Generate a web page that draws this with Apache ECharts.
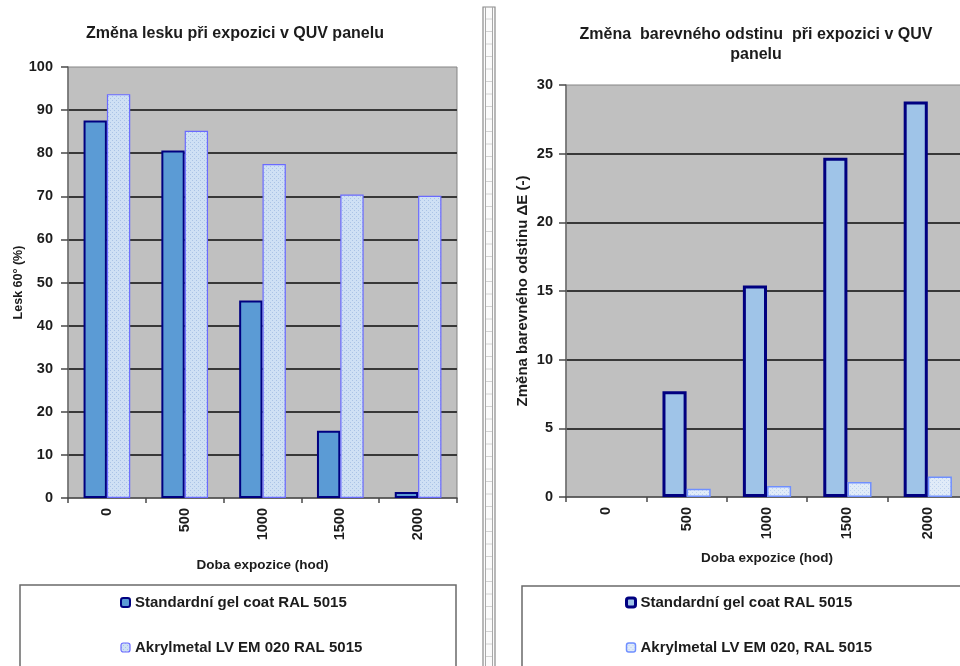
<!DOCTYPE html>
<html>
<head>
<meta charset="utf-8">
<script src="https://cdn.jsdelivr.net/npm/echarts@6/dist/echarts.min.js"></script>
<style>
  html, body { margin: 0; padding: 0; background: #ffffff; }
  #chart { width: 960px; height: 666px; }
</style>
</head>
<body>
<div id="chart"></div>
<script>
// Exposure times in a QUV panel (hours)
const hours = ['0', '500', '1000', '1500', '2000'];

// Gloss 60° (%)
const glossStandard = [87.6, 80.6, 45.8, 15.6, 1.4];
const glossAkrylmetal = [93.7, 85.2, 77.5, 70.4, 70.1];

// Colour difference ΔE (-); no bar is drawn at 0 h
const deltaEStandard = [null, 7.7, 15.4, 24.7, 28.8];
const deltaEAkrylmetal = [null, 0.6, 0.8, 1.1, 1.5];

const nameStandard = 'Standardní gel coat RAL 5015';
const nameAkrylLeft = 'Akrylmetal LV EM 020 RAL 5015';
const nameAkrylRight = 'Akrylmetal LV EM 020, RAL 5015';

const FONT = '"Liberation Sans", Arial, sans-serif';
const TEXT = '#1c1c1c';

// Small dotted tile used as the fill of the Akrylmetal bars
function dotPattern(bg, dot) {
  const c = document.createElement('canvas');
  c.width = 4; c.height = 4;
  const g = c.getContext('2d');
  g.fillStyle = bg; g.fillRect(0, 0, 4, 4);
  g.fillStyle = dot;
  g.fillRect(0, 0, 1, 1);
  g.fillRect(2, 2, 1, 1);
  return { image: c, repeat: 'repeat' };
}
const akrylFillLeft = dotPattern('#cfe0f4', '#aac3e6');
const akrylFillRight = dotPattern('#e0ebf8', '#bed2ee');

const styleStdLeft = { color: '#5b9bd5', borderColor: '#000080', borderWidth: 2 };
const styleAkrLeft = { color: akrylFillLeft, borderColor: '#6a6aff', borderWidth: 1.2 };
const styleStdRight = { color: '#9fc4e8', borderColor: '#000080', borderWidth: 3 };
const styleAkrRight = { color: akrylFillRight, borderColor: '#6f8fff', borderWidth: 1.5 };

const tickFont = { fontFamily: FONT, fontWeight: 'bold', fontSize: 14.5, color: TEXT };

function valueAxis(gridIndex, max, interval, name, nameGap, nameSize, margin) {
  return {
    type: 'value', gridIndex, min: 0, max, interval,
    name, nameLocation: 'middle', nameGap,
    nameTextStyle: { fontFamily: FONT, fontWeight: 'bold', fontSize: nameSize, color: TEXT },
    axisLine: { show: true, lineStyle: { color: '#6e6e6e', width: 1.5 } },
    axisTick: { show: true, length: 7, lineStyle: { color: '#4a4a4a', width: 1.5 } },
    axisLabel: Object.assign({ margin }, tickFont),
    splitLine: { show: true, showMinLine: false, showMaxLine: false,
                 lineStyle: { color: '#383838', width: 1.8 } }
  };
}

function categoryAxis(gridIndex, nameGap) {
  return {
    type: 'category', gridIndex, data: hours,
    name: 'Doba expozice (hod)', nameLocation: 'middle', nameGap,
    nameTextStyle: { fontFamily: FONT, fontWeight: 'bold', fontSize: 13.5, color: TEXT },
    axisLine: { show: true, lineStyle: { color: '#4a4a4a', width: 1.5 } },
    axisTick: { show: true, length: 5, lineStyle: { color: '#4a4a4a', width: 1.5 } },
    axisLabel: Object.assign({ rotate: 90, margin: 10 }, tickFont)
  };
}

// Vertical spreadsheet-style strip separating the two charts
const strip = [];
strip.push({ type: 'rect', shape: { x: 483, y: 7, width: 12, height: 670 },
             style: { fill: '#fbfbfb', stroke: '#8a8a8a', lineWidth: 1.2 }, silent: true });
strip.push({ type: 'line', shape: { x1: 485.5, y1: 7, x2: 485.5, y2: 677 },
             style: { stroke: '#a8a8a8', lineWidth: 1 }, silent: true });
strip.push({ type: 'line', shape: { x1: 492.5, y1: 7, x2: 492.5, y2: 677 },
             style: { stroke: '#a8a8a8', lineWidth: 1 }, silent: true });
for (let y = 19; y < 666; y += 12.5) {
  strip.push({ type: 'line', shape: { x1: 486, y1: y, x2: 492, y2: y },
               style: { stroke: '#d2d2d2', lineWidth: 1 }, silent: true });
}

const legendText = { fontFamily: FONT, fontWeight: 'bold', fontSize: 15, color: TEXT };

const option = {
  backgroundColor: '#ffffff',
  animation: false,
  title: [
    { text: 'Změna lesku při expozici v QUV panelu', left: 230, top: 21, textAlign: 'center',
      textStyle: { fontFamily: FONT, fontWeight: 'bold', fontSize: 16, color: TEXT } },
    { text: 'Změna  barevného odstinu  při expozici v QUV\npanelu', left: 751, top: 20, textAlign: 'center',
      textStyle: { fontFamily: FONT, fontWeight: 'bold', fontSize: 16, color: TEXT, lineHeight: 20 } }
  ],
  grid: [
    { left: 68, width: 389, top: 67, height: 431, show: true, outerBoundsMode: 'none',
      backgroundColor: '#c0c0c0', borderColor: '#858585', borderWidth: 1 },
    { left: 566, width: 402, top: 85, height: 412, show: true, outerBoundsMode: 'none',
      backgroundColor: '#c0c0c0', borderColor: '#858585', borderWidth: 1 }
  ],
  xAxis: [categoryAxis(0, 60), categoryAxis(1, 54)],
  yAxis: [
    valueAxis(0, 100, 10, 'Lesk 60° (%)', 43, 12.5, 15),
    valueAxis(1, 30, 5, 'Změna barevného odstinu ΔE (-)', 36, 15, 13)
  ],
  legend: [
    { orient: 'vertical', left: 120, top: 595, padding: 0, itemWidth: 9, itemHeight: 9, itemGap: 30,
      textStyle: legendText,
      data: [
        { name: nameStandard, itemStyle: styleStdLeft },
        { name: nameAkrylLeft, itemStyle: styleAkrLeft }
      ] },
    { orient: 'vertical', left: 625, top: 595, padding: 0, itemWidth: 9, itemHeight: 9, itemGap: 30,
      textStyle: legendText,
      data: [
        { name: nameStandard, itemStyle: styleStdRight },
        { name: nameAkrylRight, itemStyle: styleAkrRight }
      ] }
  ],
  graphic: strip.concat([
    { type: 'rect', shape: { x: 20, y: 585, width: 436, height: 100 },
      style: { fill: 'none', stroke: '#6a6a6a', lineWidth: 1.5 }, silent: true, z: -1 },
    { type: 'rect', shape: { x: 522, y: 586, width: 460, height: 100 },
      style: { fill: 'none', stroke: '#6a6a6a', lineWidth: 1.5 }, silent: true, z: -1 }
  ]),
  series: [
    { type: 'bar', name: nameStandard, xAxisIndex: 0, yAxisIndex: 0, data: glossStandard,
      barGap: '0%', barCategoryGap: '40%', itemStyle: styleStdLeft },
    { type: 'bar', name: nameAkrylLeft, xAxisIndex: 0, yAxisIndex: 0, data: glossAkrylmetal,
      barGap: '0%', barCategoryGap: '40%', itemStyle: styleAkrLeft },
    { type: 'bar', name: nameStandard, xAxisIndex: 1, yAxisIndex: 1, data: deltaEStandard,
      barGap: '0%', barCategoryGap: '40%', itemStyle: styleStdRight },
    { type: 'bar', name: nameAkrylRight, xAxisIndex: 1, yAxisIndex: 1, data: deltaEAkrylmetal,
      barGap: '0%', barCategoryGap: '40%', itemStyle: styleAkrRight }
  ]
};

const chart = echarts.init(document.getElementById('chart'), null, { renderer: 'canvas' });
chart.setOption(option);
</script>
</body>
</html>
